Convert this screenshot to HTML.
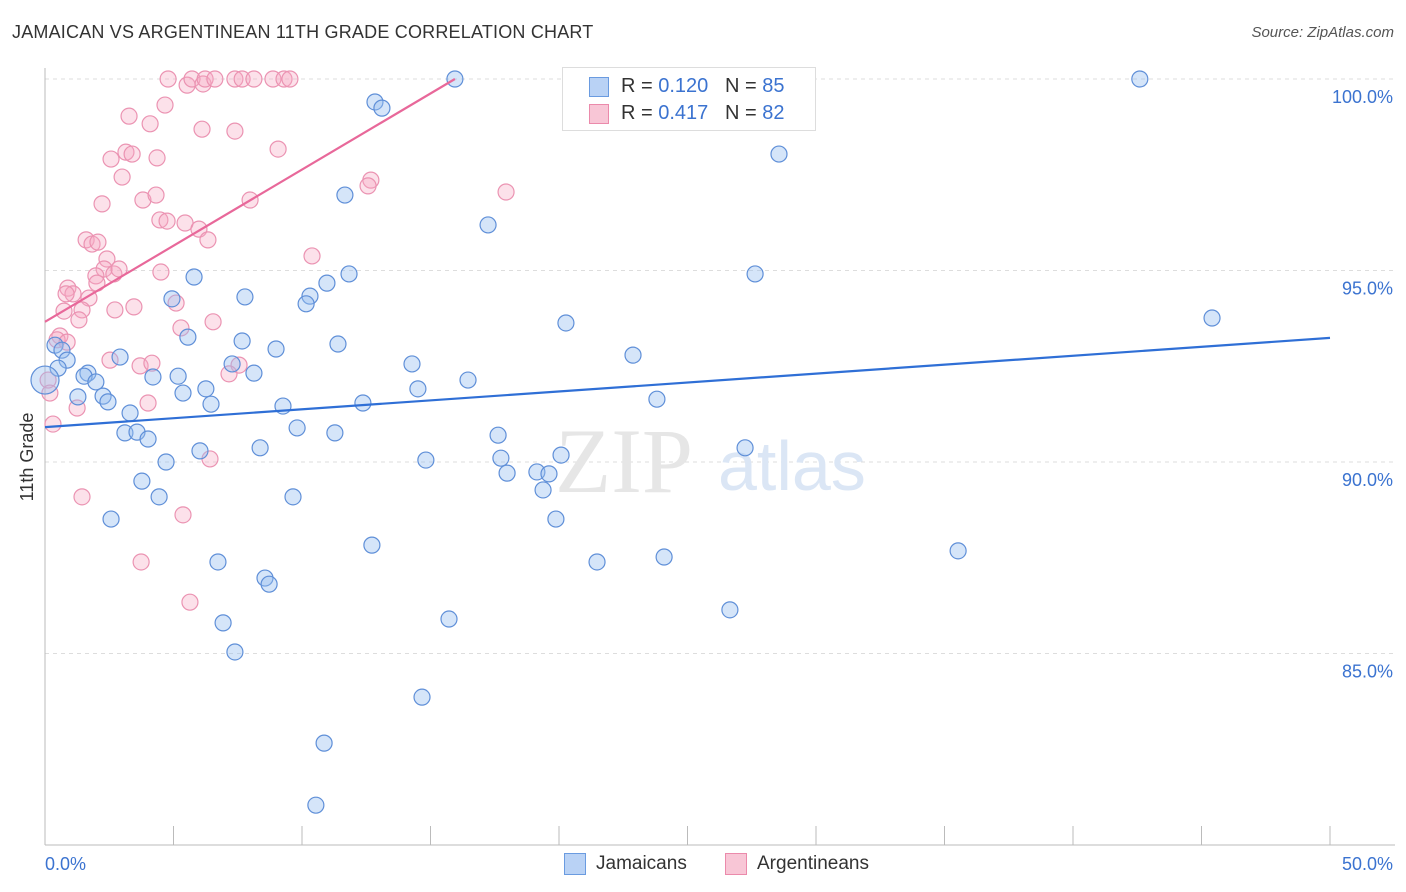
<!DOCTYPE html>
<html><head><meta charset="utf-8">
<style>
body{margin:0;background:#fff;font-family:"Liberation Sans",sans-serif;}
#wrap{position:relative;width:1406px;height:892px;overflow:hidden;}
.t{position:absolute;white-space:nowrap;}
</style></head>
<body>
<div id="wrap">
<div class="t" style="left:12px;top:22px;font-size:18px;color:#333;letter-spacing:0.2px">JAMAICAN VS ARGENTINEAN 11TH GRADE CORRELATION CHART</div>
<div class="t" style="right:12px;top:24px;font-size:15px;color:#555;font-style:italic">Source: ZipAtlas.com</div>
<svg id="chart" width="1406" height="892" style="position:absolute;left:0;top:0"></svg>
</div>
<script>
const xTicks=[0,5,10,15,20,25,30,35,40,45,50];
const yTicks=[85,90,95,100];
const yTickLabels=["85.0%","90.0%","95.0%","100.0%"];
const jamX=[15.95,42.6,12.84,13.11,28.56,11.67,17.24,27.63,5.80,7.78,4.94,10.31,10.16,10.97,11.83,45.41,20.27,5.56,7.67,11.40,8.99,22.88,0.39,0.66,0.86,2.92,0.51,1.67,7.28,8.13,14.28,4.20,5.18,1.52,1.98,16.46,14.51,6.26,5.37,2.26,1.28,2.45,12.37,6.46,9.26,23.81,3.31,9.81,3.11,3.58,4.01,11.28,17.63,8.37,6.03,27.24,4.71,14.82,17.74,20.08,17.98,19.14,19.61,3.77,19.38,4.44,9.65,2.57,19.88,12.72,35.53,24.09,21.48,6.73,8.56,8.72,15.72,6.93,26.65,7.39,14.67,10.86,10.54,0];
const jamY=[100,100,99.4,99.24,98.04,96.97,96.19,94.91,94.83,94.31,94.26,94.33,94.13,94.67,94.91,93.76,93.63,93.26,93.16,93.08,92.95,92.79,93.05,92.92,92.66,92.74,92.45,92.32,92.56,92.32,92.56,92.22,92.24,92.24,92.09,92.14,91.91,91.91,91.80,91.72,91.70,91.57,91.54,91.51,91.46,91.64,91.28,90.89,90.76,90.78,90.60,90.76,90.70,90.37,90.29,90.37,90.0,90.05,90.10,90.18,89.71,89.74,89.69,89.50,89.27,89.09,89.09,88.51,88.51,87.83,87.68,87.52,87.39,87.39,86.97,86.81,85.90,85.80,86.14,85.04,83.86,82.66,81.04,92.14];
const argX=[4.79,5.53,5.72,6.15,6.23,6.61,7.39,7.67,8.13,8.87,9.30,9.53,4.67,3.27,4.09,6.11,7.39,2.57,3.15,3.39,4.36,9.07,3.00,12.68,12.57,17.94,2.22,3.81,4.32,7.98,4.47,4.75,5.45,5.99,6.34,1.60,1.83,2.06,10.39,2.41,2.30,4.51,1.98,2.68,2.88,2.02,0.89,1.09,0.82,1.71,5.10,3.46,2.72,0.74,1.44,1.32,6.54,5.29,0.58,0.47,0.86,2.53,3.70,4.16,7.55,7.16,0.12,0.19,4.01,1.25,0.31,6.42,1.44,5.37,3.74,5.64];
const argY=[100,99.84,100,99.87,100,100,100,100,100,100,100,100,99.32,99.03,98.83,98.69,98.64,97.91,98.09,98.04,97.94,98.17,97.44,97.36,97.21,97.05,96.74,96.84,96.97,96.84,96.32,96.29,96.24,96.08,95.80,95.80,95.69,95.74,95.38,95.30,95.04,94.96,94.86,94.91,95.04,94.67,94.54,94.39,94.39,94.28,94.15,94.05,93.97,93.94,93.97,93.71,93.66,93.50,93.29,93.19,93.13,92.66,92.51,92.58,92.53,92.30,92.14,91.80,91.54,91.41,90.99,90.08,89.09,88.62,87.39,86.34];
const jamTrend=[90.91,93.24];   // y at x=0 and x=50
const argTrend=[93.66,100];     // y at x=0 and x=15.95
const argTrendEnd=15.95;

const X0=45,X1=1330,YTOP=79,PXPER=38.3;
const sx=v=>X0+(X1-X0)*v/50;
const sy=v=>YTOP+(100-v)*PXPER;
const svg=document.getElementById('chart');
const NS='http://www.w3.org/2000/svg';
function mk(tag,attrs){const e=document.createElementNS(NS,tag);for(const k in attrs)e.setAttribute(k,attrs[k]);svg.appendChild(e);return e;}

// gridlines
yTicks.forEach((t,i)=>{
  const g=mk('line',{x1:X0,x2:1395,y1:sy(t),y2:sy(t),stroke:'#ddd','stroke-dasharray':'4,4'});
  
  
  const lb=mk('text',{x:1393,y:sy(t)+24,'text-anchor':'end','font-size':18,fill:'#3b73d0','font-family':'Liberation Sans,sans-serif'});
  lb.textContent=yTickLabels[i];
  
  
});
// axes
const ya=mk('line',{x1:X0,x2:X0,y1:68,y2:845,stroke:'#bbb'});


const xa=mk('line',{x1:X0,x2:1395,y1:845,y2:845,stroke:'#bbb'});


xTicks.forEach(t=>{
  const tk=mk('line',{x1:sx(t),x2:sx(t),y1:826,y2:845,stroke:'#bbb'});
  
  
});
const xl0=mk('text',{x:45,y:870,'font-size':18,fill:'#3b73d0','font-family':'Liberation Sans,sans-serif'});
xl0.textContent='0.0%';


const xl1=mk('text',{x:1393,y:870,'text-anchor':'end','font-size':18,fill:'#3b73d0','font-family':'Liberation Sans,sans-serif'});
xl1.textContent='50.0%';


const yt=mk('text',{x:33,y:457,'text-anchor':'middle','font-size':18,fill:'#333',transform:'rotate(-90 33 457)','font-family':'Liberation Sans,sans-serif'});
yt.textContent='11th Grade';


// watermark
const wm=mk('text',{x:555,y:492,'font-size':92,fill:'#e6e6e6','font-family':'Liberation Serif,serif'});
wm.textContent='ZIP';


const wm2=mk('text',{x:718,y:490,'font-size':70,fill:'#dbe6f5','font-family':'Liberation Sans,sans-serif'});
wm2.textContent='atlas';



// points
argX.forEach((x,i)=>{
  const c=mk('circle',{cx:sx(x),cy:sy(argY[i]),r:8,fill:'rgba(245,170,195,0.35)',stroke:'#eb93b2','stroke-width':1.2});
  
  
});
jamX.forEach((x,i)=>{
  const c=mk('circle',{cx:sx(x),cy:sy(jamY[i]),r:(i===jamX.length-1?14:8),fill:'rgba(150,190,240,0.4)',stroke:'#5f8fd8','stroke-width':1.2});
  
  
});
// trend lines
const tl1=mk('line',{x1:sx(0),y1:sy(jamTrend[0]),x2:sx(50),y2:sy(jamTrend[1]),stroke:'#2f6fd6','stroke-width':2.2});


const tl2=mk('line',{x1:sx(0),y1:sy(argTrend[0]),x2:sx(argTrendEnd),y2:sy(argTrend[1]),stroke:'#e8689a','stroke-width':2.2});


</script>
<div class="t" style="left:562px;top:67px;width:252px;height:62px;background:#fff;border:1px solid #ddd;font-size:20px;color:#333">
 <div style="position:absolute;left:26px;top:9px;width:18px;height:18px;background:#b9d2f5;border:1px solid #6a9be0"></div>
 <div class="t" style="left:58px;top:7px">R = <span style="color:#3b73d0">0.120</span>&nbsp;&nbsp;&nbsp;N = <span style="color:#3b73d0">85</span></div>
 <div style="position:absolute;left:26px;top:36px;width:18px;height:18px;background:#f8c6d6;border:1px solid #eb8aab"></div>
 <div class="t" style="left:58px;top:34px">R = <span style="color:#3b73d0">0.417</span>&nbsp;&nbsp;&nbsp;N = <span style="color:#3b73d0">82</span></div>
</div>
<div class="t" style="left:564px;top:853px;width:20px;height:20px;background:#b9d2f5;border:1px solid #6a9be0"></div>
<div class="t" style="left:596px;top:853px;font-size:19px;color:#333">Jamaicans</div>
<div class="t" style="left:725px;top:853px;width:20px;height:20px;background:#f8c6d6;border:1px solid #eb8aab"></div>
<div class="t" style="left:757px;top:853px;font-size:19px;color:#333">Argentineans</div>
</body></html>
